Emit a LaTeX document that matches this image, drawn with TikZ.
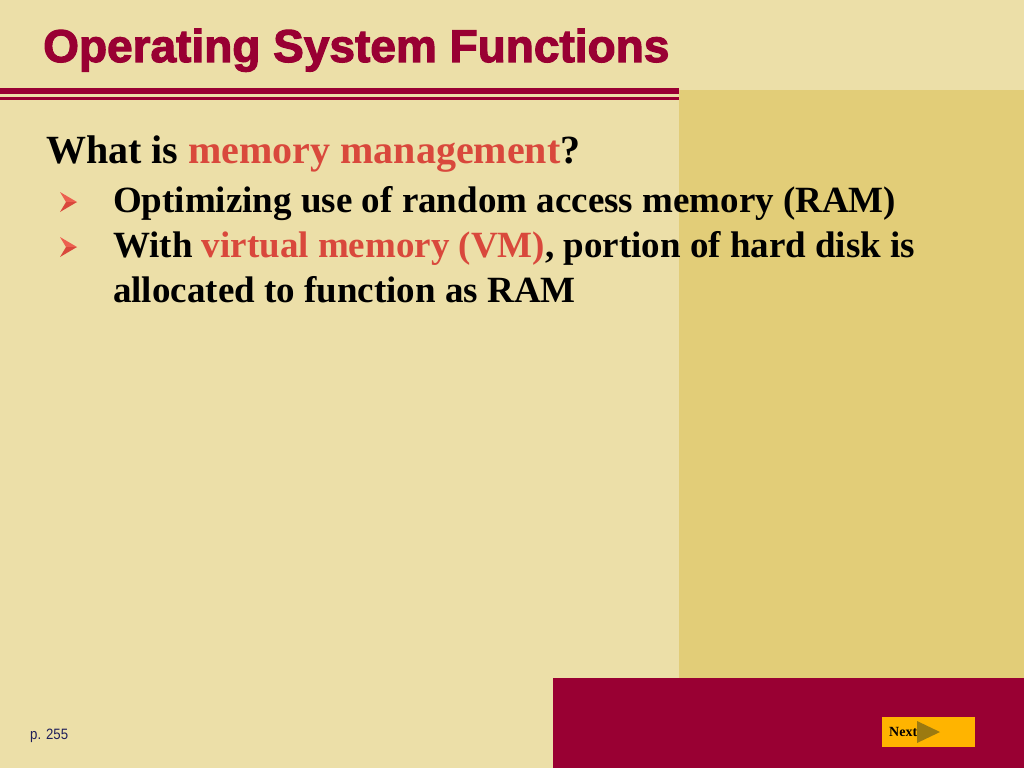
\documentclass[tikz,border=0pt]{standalone}
\usepackage{fontspec}
\setmainfont{Liberation Serif}
\newfontfamily\titelfont[FakeBold=2.5]{Liberation Sans Bold}
\newfontfamily\sidefont[FakeStretch=0.88]{Liberation Sans}
\definecolor{baggrund}{RGB}{236,223,168}
\definecolor{panel}{RGB}{226,205,120}
\definecolor{vinrod}{RGB}{153,0,51}
\definecolor{rod}{RGB}{217,72,60}
\definecolor{lysrod}{RGB}{236,96,80}
\definecolor{knap}{RGB}{255,180,0}
\definecolor{oliven}{RGB}{156,122,16}
\definecolor{navy}{RGB}{30,30,90}
\tikzset{
  tekst/.style={anchor=base west,inner sep=0pt,font=\bfseries\fontsize{37}{45}\selectfont}
}
\begin{document}
\begin{tikzpicture}[x=1pt,y=-1pt]
  %baggrund og rammer
  	\fill[baggrund] (0,0) rectangle (1024,768);
  	\useasboundingbox (0,0) rectangle (1024,768);
  	\fill[panel] (679,90) rectangle (1024,678);
  	\fill[vinrod] (553,678) rectangle (1024,768);
  	
  %linjer under titel
  	\fill[vinrod] (0,88) rectangle (679,94);
  	\fill[vinrod] (0,97) rectangle (679,99.5);
  	
  %titel
  	\node[anchor=base west,inner sep=0pt,text=vinrod,font=\titelfont\fontsize{46}{50}\selectfont] (titel) at (43,62) {Operating System Functions};
  	
  %spoergsmaal
  	\node[tekst,font=\bfseries\fontsize{40}{48}\selectfont] (spm) at (46,163) {What is \textcolor{rod}{memory management}?};
  	
  %punkter
  	\foreach \y in {202,247}{
  		\fill[lysrod] (60,\y-10) -- (77,\y) -- (66,\y) -- cycle;
  		\fill[rod] (66,\y) -- (77,\y) -- (60,\y+10) -- cycle;
  	}
  	\node[tekst] (punkt1) at (113,212) {Optimizing use of random access memory (RAM)};
  	\node[tekst] (punkt2) at (113,257) {With \textcolor{rod}{virtual memory (VM)}, portion of hard disk is};
  	\node[tekst] (punkt2b) at (113,302) {allocated to function as RAM};
  	
  %sidetal
  	\node[anchor=base west,inner sep=0pt,text=navy,font=\sidefont\fontsize{15}{18}\selectfont] (side) at (30,739) {p. 255};
  	
  %next-knap
  	\fill[knap] (882,717) rectangle (975,747);
  	\node[anchor=base west,inner sep=0pt,font=\bfseries\fontsize{14}{16}\selectfont] (next) at (889,736) {Next};
  	\fill[oliven] (917,721) -- (940,732) -- (917,743) -- cycle;
\end{tikzpicture}
\end{document}
